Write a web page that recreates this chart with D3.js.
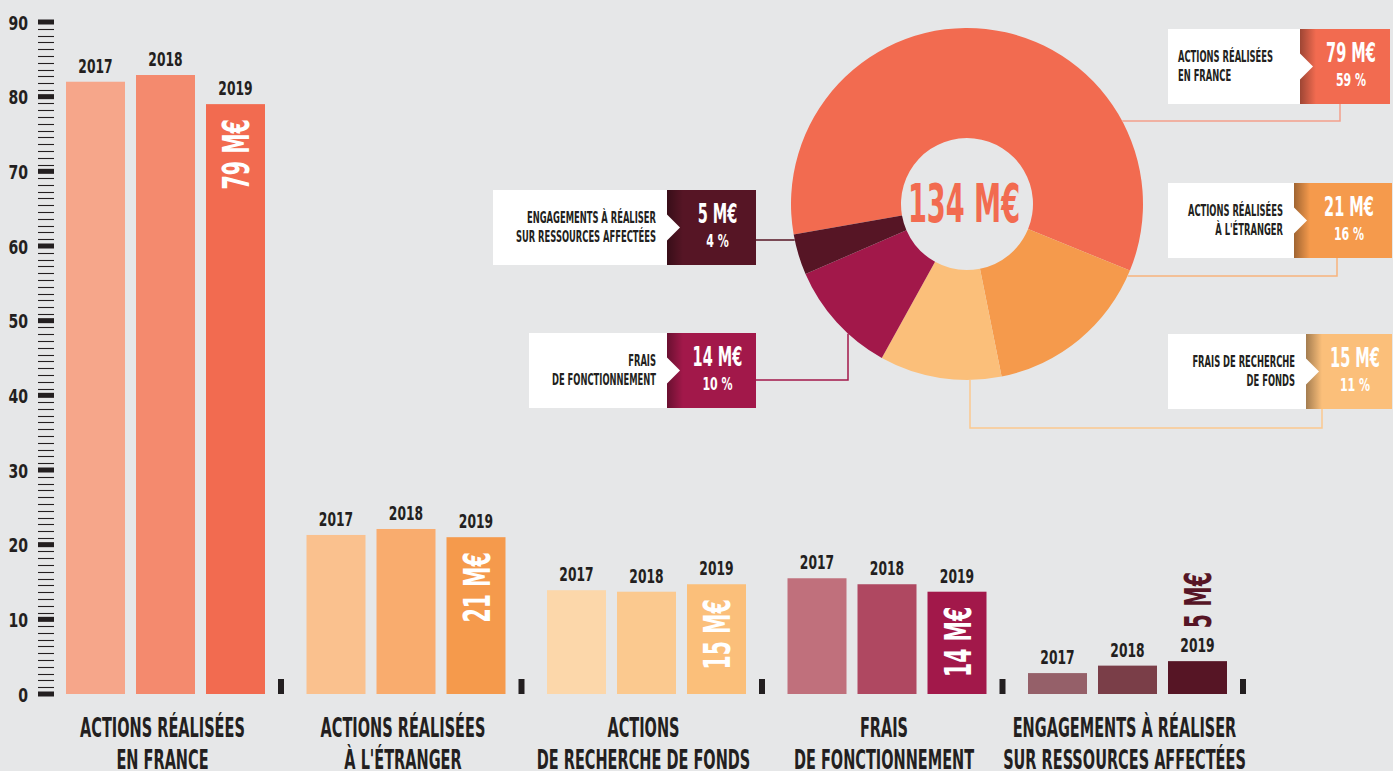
<!DOCTYPE html>
<html><head><meta charset="utf-8">
<script src="https://cdn.jsdelivr.net/npm/d3@7"></script>
<style>
html,body{margin:0;padding:0;background:#e6e7e8;overflow:hidden;}
svg{display:block;}
text{font-family:"DejaVu Sans Condensed","DejaVu Sans",sans-serif;font-weight:bold;}
</style></head><body>
<svg id="chart" width="1393" height="771"></svg>
<script>
// ---------- DATA ----------
const categories = [
  ["ACTIONS RÉALISÉES","EN FRANCE"],
  ["ACTIONS RÉALISÉES","À L'ÉTRANGER"],
  ["ACTIONS","DE RECHERCHE DE FONDS"],
  ["FRAIS","DE FONCTIONNEMENT"],
  ["ENGAGEMENTS À RÉALISER","SUR RESSOURCES AFFECTÉES"]
];
const years = ["2017","2018","2019"];
const values2017 = [82.0, 21.3, 13.9, 15.5, 2.8];
const values2018 = [82.9, 22.1, 13.7, 14.7, 3.8];
const values2019 = [79.0, 21.0, 14.7, 13.7, 4.4];
const labels2019 = ["79 M€","21 M€","15 M€","14 M€","5 M€"];
const yTickValues = [0,10,20,30,40,50,60,70,80,90];

const pieNames = [
  ["ACTIONS RÉALISÉES","EN FRANCE"],
  ["ACTIONS RÉALISÉES","À L'ÉTRANGER"],
  ["FRAIS DE RECHERCHE","DE FONDS"],
  ["FRAIS","DE FONCTIONNEMENT"],
  ["ENGAGEMENTS À RÉALISER","SUR RESSOURCES AFFECTÉES"]
];
const pieValues = [79, 21, 15, 14, 5];
const pieAmounts = ["79 M€","21 M€","15 M€","14 M€","5 M€"];
const piePercents = ["59 %","16 %","11 %","10 %","4 %"];
const pieTotal = "134 M€";

// ---------- STYLE ----------
const barColors = [
  ["#f6a68a","#f48a6e","#f26b50"],
  ["#fac18e","#f9ac6e","#f59a4c"],
  ["#fcd7aa","#fbc98f","#fbbf7a"],
  ["#c0707c","#af4861","#a2184a"],
  ["#956069","#7a3e48","#561525"]
];
const pieColors = ["#f26b50","#f59a4c","#fbbf7a","#a2184a","#561525"];
const leaderColors = ["#f4a08a","#f8b47c","#fbc98f","#a2184a","#561525"];
const ink = "#231f20";
const bg = "#e6e7e8";

const svg = d3.select("#chart");
svg.append("rect").attr("width",1393).attr("height",771).attr("fill",bg);

function condense(sel, k){
  sel.each(function(){
    const L = this.getComputedTextLength();
    d3.select(this).attr("textLength", L*k).attr("lengthAdjust","spacingAndGlyphs");
  });
}

// ---------- BAR CHART ----------
const y = d3.scaleLinear().domain([0,90]).range([694,22]);
const xg = d3.scaleBand().domain(d3.range(categories.length)).range([66, 66+240.5*5]).paddingInner(0).paddingOuter(0);
const xi = d3.scaleBand().domain(years).range([0,199]).paddingInner(11/70).paddingOuter(0);

// y axis
const axis = svg.append("g");
const minor = [];
yTickValues.slice(0,-1).forEach(v=>{ for(let j=1;j<=10;j++) minor.push(v + j*10/11); });
axis.selectAll("line.minor").data(minor).join("line")
  .attr("x1",38).attr("x2",54)
  .attr("y1",d=>Math.round(y(d))+0.5).attr("y2",d=>Math.round(y(d))+0.5)
  .attr("stroke",ink).attr("stroke-width",1.1);
axis.selectAll("rect.major").data(yTickValues).join("rect")
  .attr("x",38).attr("width",16).attr("y",d=>y(d)-2.5).attr("height",5).attr("fill",ink);
axis.selectAll("text").data(yTickValues).join("text")
  .attr("x",28).attr("y",d=>y(d)+7.5).attr("text-anchor","end")
  .attr("font-size",20).attr("fill",ink).text(d=>d)
  .call(condense,0.78);

const series = [values2017, values2018, values2019];
const groups = svg.append("g").selectAll("g").data(categories).join("g")
  .attr("transform",(d,i)=>`translate(${xg(i)},0)`);

groups.each(function(cat, i){
  const g = d3.select(this);
  years.forEach((yr, j)=>{
    const v = series[j][i];
    g.append("rect").attr("x",xi(yr)).attr("width",xi.bandwidth())
      .attr("y",y(v)).attr("height",y(0)-y(v)).attr("fill",barColors[i][j]);
    g.append("text").attr("x",xi(yr)+xi.bandwidth()/2).attr("y",y(v)-9)
      .attr("text-anchor","middle").attr("font-size",19).attr("fill",ink).text(yr)
      .call(condense,0.72);
  });
  // 2019 value label
  const v19 = values2019[i];
  const cx = xi("2019")+xi.bandwidth()/2;
  const inside = (y(0)-y(v19)) > 90;
  if(inside){
    g.append("text").attr("transform",`translate(${cx},${y(v19)+15}) rotate(-90)`)
      .attr("dy","0.36em").attr("text-anchor","end").attr("font-size",38).attr("fill","#ffffff")
      .text(labels2019[i]).call(condense,0.6);
  } else {
    g.append("text").attr("transform",`translate(${cx},${y(v19)-33}) rotate(-90)`)
      .attr("dy","0.36em").attr("text-anchor","start").attr("font-size",38).attr("fill",barColors[i][2])
      .text(labels2019[i]).call(condense,0.6);
  }
  // separator
  g.append("rect").attr("x",212).attr("width",6).attr("y",y(0)-15).attr("height",15).attr("fill",ink);
  // category label
  const lc = 199/2 - 3;
  cat.forEach((line,k)=>{
    g.append("text").attr("x",lc).attr("y",737+k*32).attr("text-anchor","middle")
      .attr("font-size",26).attr("fill",ink).text(line).call(condense,0.62);
  });
});

// ---------- DONUT ----------
const pcx = 967, pcy = 204, R = 176, r0 = 66;
const pie = d3.pie().sort(null).startAngle(-100*Math.PI/180).endAngle(260*Math.PI/180);
const arc = d3.arc().innerRadius(r0).outerRadius(R);
const pg = svg.append("g").attr("transform",`translate(${pcx},${pcy})`);
pg.selectAll("path").data(pie(pieValues)).join("path")
  .attr("d",arc).attr("fill",(d,i)=>pieColors[i]);
pg.append("text").attr("x",-3).attr("y",18).attr("text-anchor","middle")
  .attr("font-size",53).attr("fill",pieColors[0]).text(pieTotal).call(condense,0.57);

// leader lines (layout of annotations)
const edgeX = (yy,side)=>pcx + side*Math.sqrt(R*R-(yy-pcy)*(yy-pcy));
const edgeY = (xx)=>pcy + Math.sqrt(R*R-(xx-pcx)*(xx-pcx));
const leaders = [
  [[1340,103],[1340,121],[edgeX(121,1),121]],
  [[1337,258],[1337,276],[edgeX(276,1),276]],
  [[1322,409],[1322,428],[970,428],[970,edgeY(970)]],
  [[756,380],[848,380],[848,edgeY(848)]],
  [[756,240],[edgeX(240,-1),240]]
];
svg.append("g").selectAll("path").data(leaders).join("path")
  .attr("d",d=>d3.line()(d)).attr("fill","none")
  .attr("stroke",(d,i)=>leaderColors[i]).attr("stroke-width",1.5);

// callout boxes
const boxes = [
  {wx:1168, split:1300, end:1390, top:29, align:"start"},
  {wx:1168, split:1294, end:1392, top:183, align:"end"},
  {wx:1168, split:1306, end:1392, top:334, align:"end"},
  {wx:529,  split:667,  end:756,  top:333, align:"end"},
  {wx:493,  split:667,  end:756,  top:190, align:"end"}
];
const defs = svg.append("defs");
const grad = defs.append("linearGradient").attr("id","shade").attr("x1",0).attr("x2",1).attr("y1",0).attr("y2",0);
grad.append("stop").attr("offset",0).attr("stop-color","#000").attr("stop-opacity",0.35);
grad.append("stop").attr("offset",1).attr("stop-color","#000").attr("stop-opacity",0);

const bh = 75;
boxes.forEach((b,i)=>{
  const g = svg.append("g");
  g.append("rect").attr("x",b.wx).attr("y",b.top).attr("width",b.split-b.wx).attr("height",bh).attr("fill","#ffffff");
  g.append("rect").attr("x",b.split).attr("y",b.top).attr("width",b.end-b.split).attr("height",bh).attr("fill",pieColors[i]);
  g.append("rect").attr("x",b.split).attr("y",b.top).attr("width",16).attr("height",bh).attr("fill","url(#shade)");
  const my = b.top+bh/2;
  g.append("path").attr("d",`M${b.split},${my-13}L${b.split+13},${my}L${b.split},${my+13}Z`).attr("fill","#ffffff");
  const tx = b.align==="start" ? b.wx+10 : b.split-11;
  pieNames[i].forEach((line,k)=>{
    g.append("text").attr("x",tx).attr("y",b.top+33+k*19).attr("text-anchor",b.align)
      .attr("font-size",15).attr("fill",ink).text(line).call(condense,0.62);
  });
  const cc = (b.split+b.end)/2+6;
  g.append("text").attr("x",cc).attr("y",b.top+33).attr("text-anchor","middle")
    .attr("font-size",26).attr("fill","#ffffff").text(pieAmounts[i]).call(condense,0.62);
  g.append("text").attr("x",cc).attr("y",b.top+57).attr("text-anchor","middle")
    .attr("font-size",17).attr("fill","#ffffff").text(piePercents[i]).call(condense,0.72);
});
</script>
</body></html>
